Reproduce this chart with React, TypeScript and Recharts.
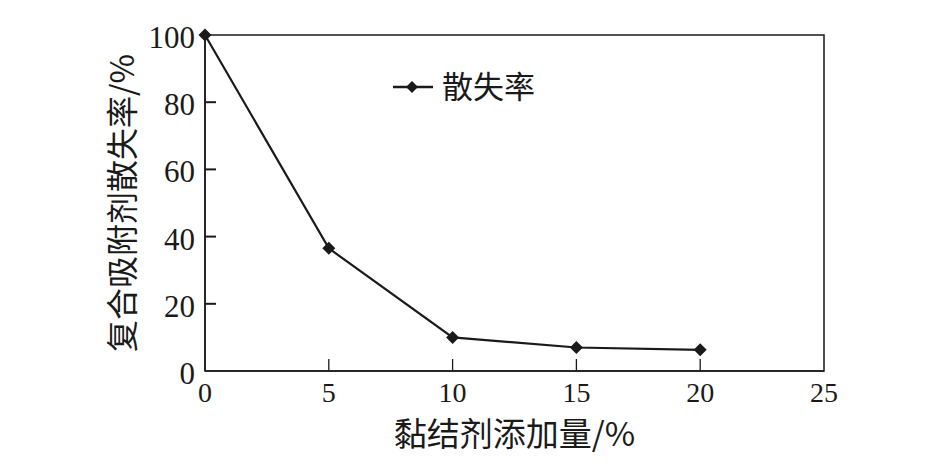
import { LineChart, Line, XAxis, YAxis, ReferenceArea, Legend, Label } from "recharts";

// 黏结剂添加量 (%) vs 复合吸附剂散失率 (%)
const binderDose = [0, 5, 10, 15, 20];
const lossRate = [100, 36.5, 10, 7, 6.3];
const xTicks = [0, 5, 10, 15, 20, 25];
const yTicks = [0, 20, 40, 60, 80, 100];

const seriesName = "散失率";
const xTitle = "黏结剂添加量/%";
const yTitle = "复合吸附剂散失率/%";

const data = binderDose.map((d, i) => ({ dose: d, loss: lossRate[i] }));

const INK = "#1a1a1a";
const SERIF = "'Liberation Serif', 'DejaVu Serif', serif";
const CJK = "'Noto Sans CJK SC', sans-serif";

const XTick = (props: any) => {
  const { x, y, payload } = props;
  const v = payload.value;
  return (
    <g>
      {v > 0 && v < 25 && <line x1={x} x2={x} y1={y} y2={y - 12} stroke={INK} strokeWidth={1.3} />}
      <text x={x} y={y + 31} textAnchor="middle" fontFamily={SERIF} fontSize={28} fill={INK}>
        {v}
      </text>
    </g>
  );
};

const YTick = (props: any) => {
  const { x, y, payload } = props;
  const v = payload.value;
  return (
    <g>
      {v > 0 && v < 100 && <line x1={x} x2={x + 11} y1={y} y2={y} stroke={INK} strokeWidth={2} />}
      <text x={x - 10} y={y + 13} textAnchor="end" fontFamily={SERIF} fontSize={31} fill={INK}>
        {v}
      </text>
    </g>
  );
};

const Diamond = (props: any) => {
  const { cx, cy } = props;
  if (cx == null || cy == null) return null;
  const r = 6.5;
  return <polygon points={`${cx},${cy - r} ${cx + r},${cy} ${cx},${cy + r} ${cx - r},${cy}`} fill={INK} />;
};

const LegendBox = () => (
  <svg width={190} height={56} style={{ overflow: "visible" }}>
    <line x1={0} x2={40} y1={28} y2={28} stroke={INK} strokeWidth={2.5} />
    <polygon points="19,22 25,28 19,34 13,28" fill={INK} />
    <text x={49} y={39} fontFamily={CJK} fontSize={31} fill={INK}>
      {seriesName}
    </text>
  </svg>
);

export default function App() {
  return (
    <div style={{ position: "absolute", left: 0, top: 0, background: "#fff" }}>
      <LineChart width={945} height={473} data={data} margin={{ top: 35, right: 121, left: 0, bottom: 0 }}>
        <XAxis
          dataKey="dose"
          type="number"
          domain={[0, 25]}
          ticks={xTicks}
          interval={0}
          height={102}
          tickSize={0}
          tickMargin={0}
          tickLine={false}
          axisLine={{ stroke: INK, strokeWidth: 1.5 }}
          tick={<XTick />}
        >
          <Label value={xTitle} position="center" dy={12} fontFamily={CJK} fontSize={33} fill={INK} />
        </XAxis>
        <YAxis
          type="number"
          domain={[0, 100]}
          ticks={yTicks}
          interval={0}
          width={205}
          tickSize={0}
          tickMargin={0}
          tickLine={false}
          axisLine={{ stroke: INK, strokeWidth: 1.5 }}
          tick={<YTick />}
        >
          <Label value={yTitle} angle={-90} position="center" dx={20} fontFamily={CJK} fontSize={32} fill={INK} />
        </YAxis>
        <ReferenceArea x1={0} x2={25} y1={0} y2={100} fill="none" fillOpacity={0} stroke={INK} strokeWidth={1.5} />
        <Legend
          layout="horizontal"
          verticalAlign="middle"
          align="center"
          content={<LegendBox />}
          wrapperStyle={{ position: "absolute", left: 393, top: 59, width: 190, height: 56 }}
        />
        <Line
          type="linear"
          dataKey="loss"
          name={seriesName}
          stroke={INK}
          strokeWidth={2.2}
          dot={<Diamond />}
          activeDot={false}
          isAnimationActive={false}
        />
      </LineChart>
    </div>
  );
}
